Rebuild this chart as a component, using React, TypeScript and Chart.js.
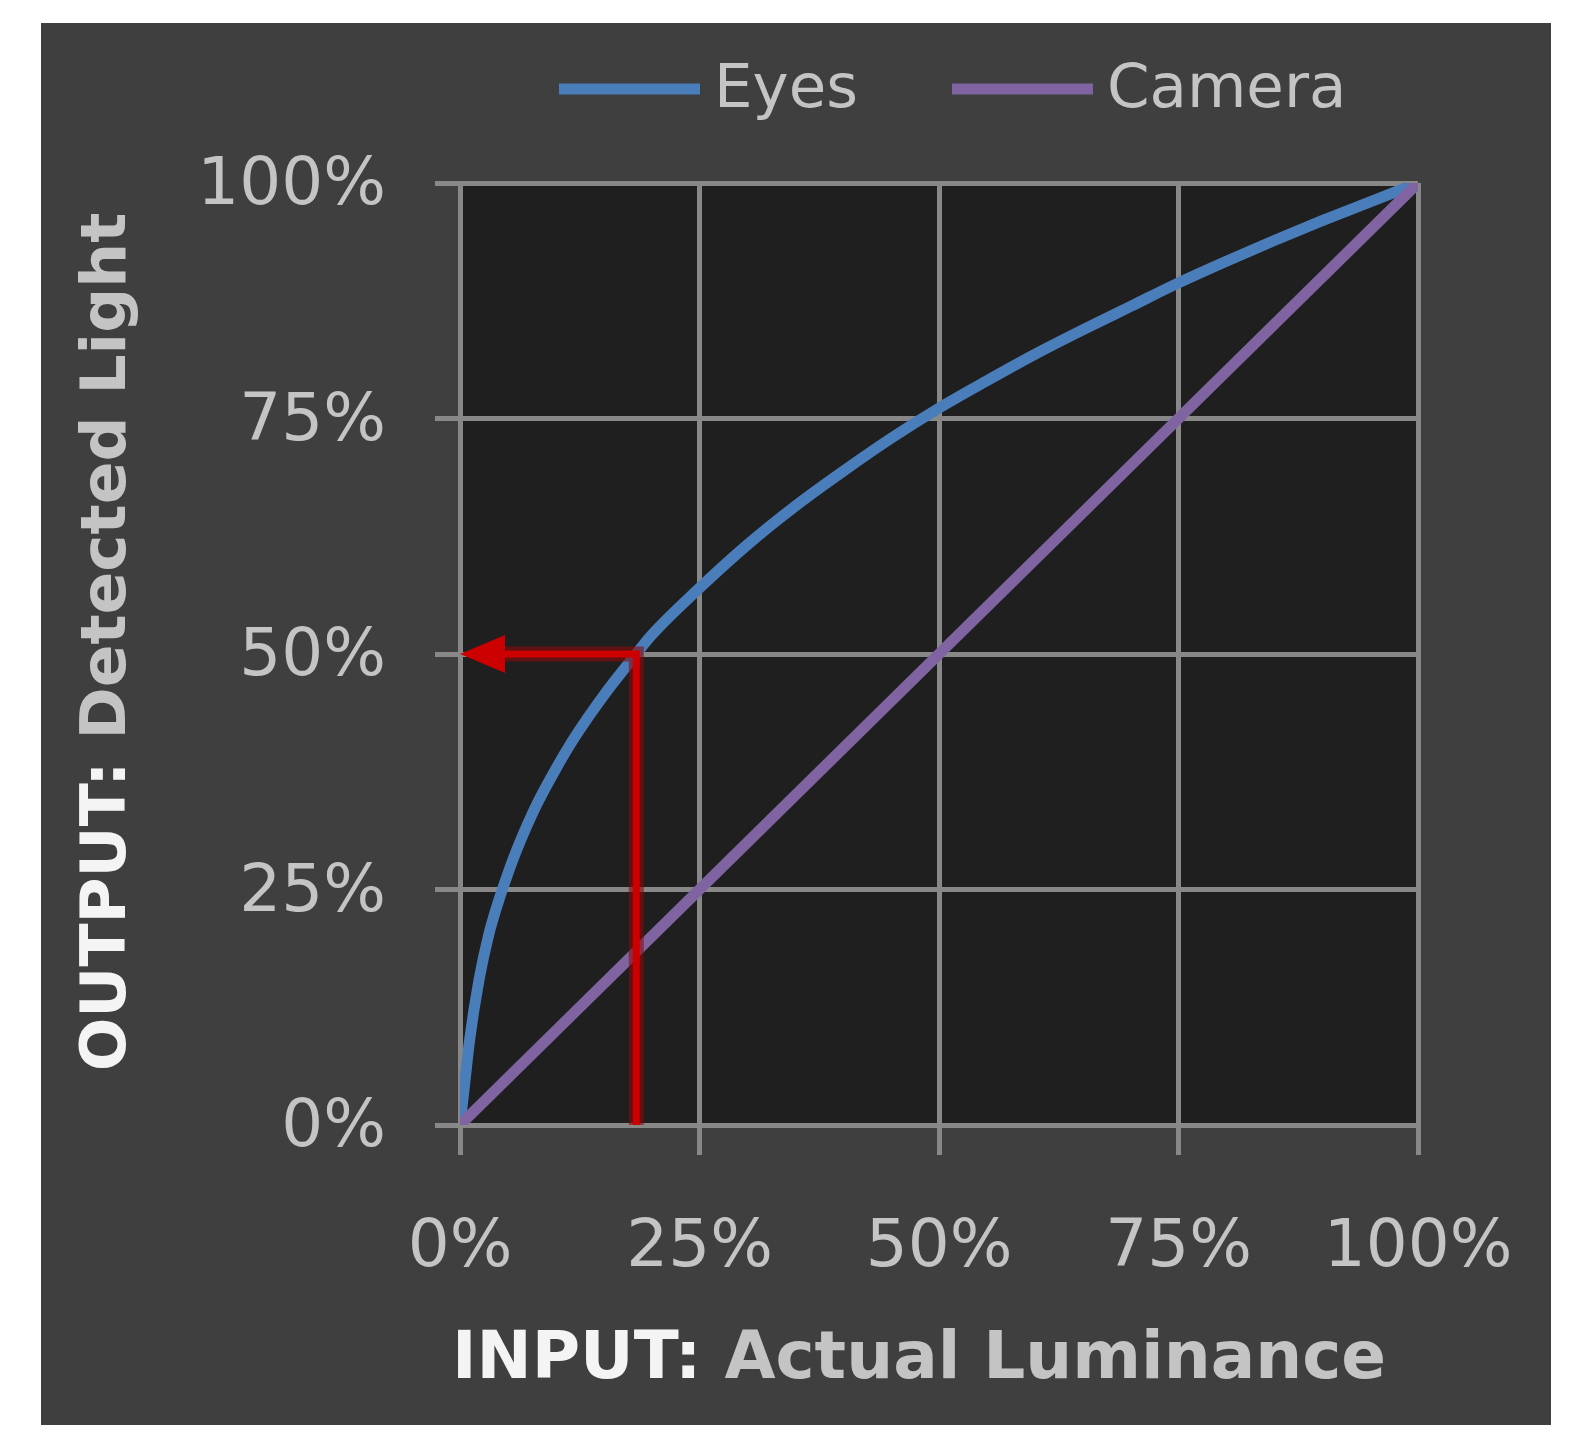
import React, { useEffect, useRef } from 'react';
import { Chart, registerables } from 'chart.js';

Chart.register(...registerables);

// ---- data ----
const inputPct = [0, 0.5, 1, 2, 3, 4, 5, 6, 8, 10, 12, 15, 18, 20, 25, 30, 35, 40, 45, 50, 55, 60, 65, 70, 75, 80, 85, 90, 95, 100];
const eyesPct = [0, 4.5, 9, 15.5, 20.2, 23.7, 26.7, 29.4, 34, 37.8, 41.2, 45.6, 49.5, 52, 57, 61.6, 65.7, 69.4, 72.9, 76.1, 79, 81.8, 84.4, 86.9, 89.4, 91.7, 93.9, 96, 98, 100];
const cameraIn = [0, 100];
const cameraOut = [0, 100];
const arrowIn = [18.4, 18.4, 2.3];
const arrowOut = [0, 50, 50];
const tickValues = [0, 25, 50, 75, 100];
const seriesLabels = ['Eyes', 'Camera'];
const xTitleParts = ['INPUT: ', 'Actual Luminance'];
const yTitleParts = ['OUTPUT: ', 'Detected Light'];

const BLUE = '#4a7ebb';
const PURPLE = '#8064a2';
const RED = '#cc0000';
const GRID = '#888888';
const LABEL = '#c4c4c4';
const TITLE_BRIGHT = '#f4f4f4';
const TITLE_DIM = '#c4c4c4';
const FONT = '"DejaVu Sans", Verdana, sans-serif';

function makeArrowHead(): HTMLCanvasElement {
  const c = document.createElement('canvas');
  c.width = 46;
  c.height = 42;
  const g = c.getContext('2d')!;
  g.fillStyle = RED;
  g.beginPath();
  g.moveTo(1, 21);
  g.lineTo(46, 2);
  g.lineTo(46, 40);
  g.closePath();
  g.fill();
  return c;
}

const backgroundPlugin = {
  id: 'bgPanels',
  beforeDraw(chart: any) {
    const { ctx, chartArea: a, width, height } = chart;
    ctx.save();
    ctx.fillStyle = '#ffffff';
    ctx.fillRect(0, 0, width, height);
    ctx.fillStyle = '#3f3f3f';
    ctx.fillRect(41, 23, 1510, 1402);
    ctx.fillStyle = '#1f1f1f';
    ctx.fillRect(a.left, a.top, a.right - a.left, a.bottom - a.top);
    ctx.restore();
  },
};

const legendPlugin = {
  id: 'lineLegend',
  afterDraw(chart: any) {
    const ctx = chart.ctx;
    ctx.save();
    ctx.font = `61px ${FONT}`;
    ctx.textBaseline = 'middle';
    ctx.textAlign = 'left';
    let x = 559;
    const lineY = 89;
    const textY = 91;
    chart.data.datasets
      .filter((d: any) => seriesLabels.includes(d.label))
      .sort((a: any, b: any) => seriesLabels.indexOf(a.label) - seriesLabels.indexOf(b.label))
      .forEach((d: any) => {
        ctx.strokeStyle = d.borderColor;
        ctx.lineWidth = 11;
        ctx.lineCap = 'butt';
        ctx.beginPath();
        ctx.moveTo(x, lineY);
        ctx.lineTo(x + 141, lineY);
        ctx.stroke();
        ctx.fillStyle = LABEL;
        const tx = x + 155;
        ctx.fillText(d.label, tx, textY);
        x = tx + ctx.measureText(d.label).width + 94;
      });
    ctx.restore();
  },
};

const titlesPlugin = {
  id: 'axisTitles',
  afterDraw(chart: any) {
    const ctx = chart.ctx;
    const a = chart.chartArea;
    ctx.save();
    ctx.textBaseline = 'middle';
    ctx.textAlign = 'left';
    const drawParts = (parts: string[], cx: number, cy: number) => {
      const w0 = ctx.measureText(parts[0]).width;
      const w1 = ctx.measureText(parts[1]).width;
      const x0 = cx - (w0 + w1) / 2;
      ctx.fillStyle = TITLE_BRIGHT;
      ctx.fillText(parts[0], x0, cy);
      ctx.fillStyle = TITLE_DIM;
      ctx.fillText(parts[1], x0 + w0, cy);
    };
    ctx.font = `bold 66px ${FONT}`;
    drawParts(xTitleParts, (a.left + a.right) / 2 - 20, a.bottom + 236);
    ctx.font = `bold 63px ${FONT}`;
    ctx.translate(109, (a.top + a.bottom) / 2 - 12);
    ctx.rotate(-Math.PI / 2);
    drawParts(yTitleParts, 0, 0);
    ctx.restore();
  },
};

export default function App() {
  const canvasRef = useRef<HTMLCanvasElement | null>(null);

  useEffect(() => {
    const canvas = canvasRef.current;
    if (!canvas) return;
    const arrowHead = makeArrowHead();

    const eyesData = inputPct.map((x, i) => ({ x, y: eyesPct[i] }));
    const cameraData = cameraIn.map((x, i) => ({ x, y: cameraOut[i] }));
    const arrowData = arrowIn.map((x, i) => ({ x, y: arrowOut[i] }));

    const tickFont = { family: FONT, size: 66 };

    const chart = new Chart(canvas, {
      type: 'line',
      data: {
        datasets: [
          {
            label: seriesLabels[0],
            data: eyesData,
            borderColor: BLUE,
            backgroundColor: BLUE,
            borderWidth: 11,
            pointRadius: 0,
            cubicInterpolationMode: 'monotone',
            order: 3,
          },
          {
            label: seriesLabels[1],
            data: cameraData,
            borderColor: PURPLE,
            backgroundColor: PURPLE,
            borderWidth: 11,
            pointRadius: 0,
            order: 2,
          },
          {
            label: 'arrow-halo',
            data: arrowData,
            borderColor: 'rgba(140,8,8,0.6)',
            borderWidth: 15,
            pointRadius: 0,
            tension: 0,
            borderJoinStyle: 'miter',
            order: 1,
          },
          {
            label: 'arrow',
            data: arrowData,
            borderColor: RED,
            backgroundColor: RED,
            borderWidth: 7,
            tension: 0,
            borderJoinStyle: 'miter',
            pointStyle: ['circle', 'circle', arrowHead] as any,
            pointRadius: [0, 0, 12],
            pointBorderWidth: 0,
            order: 0,
          },
        ] as any,
      },
      options: {
        responsive: false,
        animation: false,
        events: [],
        layout: { padding: { left: 0, right: 161, top: 183, bottom: 0 } },
        plugins: {
          legend: { display: false },
          tooltip: { enabled: false },
          title: { display: false },
        },
        scales: {
          x: {
            type: 'linear',
            position: 'bottom',
            min: 0,
            max: 100,
            afterFit: (s: any) => {
              s.height = 330;
            },
            afterBuildTicks: (s: any) => {
              s.ticks = tickValues.map((v) => ({ value: v }));
            },
            ticks: {
              callback: (v: any) => `${v}%`,
              color: LABEL,
              font: tickFont,
              padding: 54,
              maxRotation: 0,
              autoSkip: false,
            },
            grid: {
              color: GRID,
              lineWidth: 5,
              drawTicks: true,
              tickLength: 30,
              tickColor: GRID,
              tickWidth: 5,
            },
            border: { display: true, color: GRID, width: 5 },
          },
          y: {
            type: 'linear',
            position: 'left',
            min: 0,
            max: 100,
            afterFit: (s: any) => {
              s.width = 460;
            },
            afterBuildTicks: (s: any) => {
              s.ticks = tickValues.map((v) => ({ value: v }));
            },
            ticks: {
              callback: (v: any) => `${v}%`,
              color: LABEL,
              font: tickFont,
              padding: 49,
              labelOffset: 4,
              autoSkip: false,
            },
            grid: {
              color: GRID,
              lineWidth: 5,
              drawTicks: true,
              tickLength: 25,
              tickColor: GRID,
              tickWidth: 5,
            },
            border: { display: true, color: GRID, width: 5 },
          },
        },
      } as any,
      plugins: [backgroundPlugin, legendPlugin, titlesPlugin],
    });

    return () => {
      chart.destroy();
    };
  }, []);

  return (
    <div style={{ position: 'absolute', left: 0, top: 0, width: 1579, height: 1455, background: '#ffffff' }}>
      <canvas ref={canvasRef} width={1579} height={1455} style={{ display: 'block', width: 1579, height: 1455 }} />
    </div>
  );
}
